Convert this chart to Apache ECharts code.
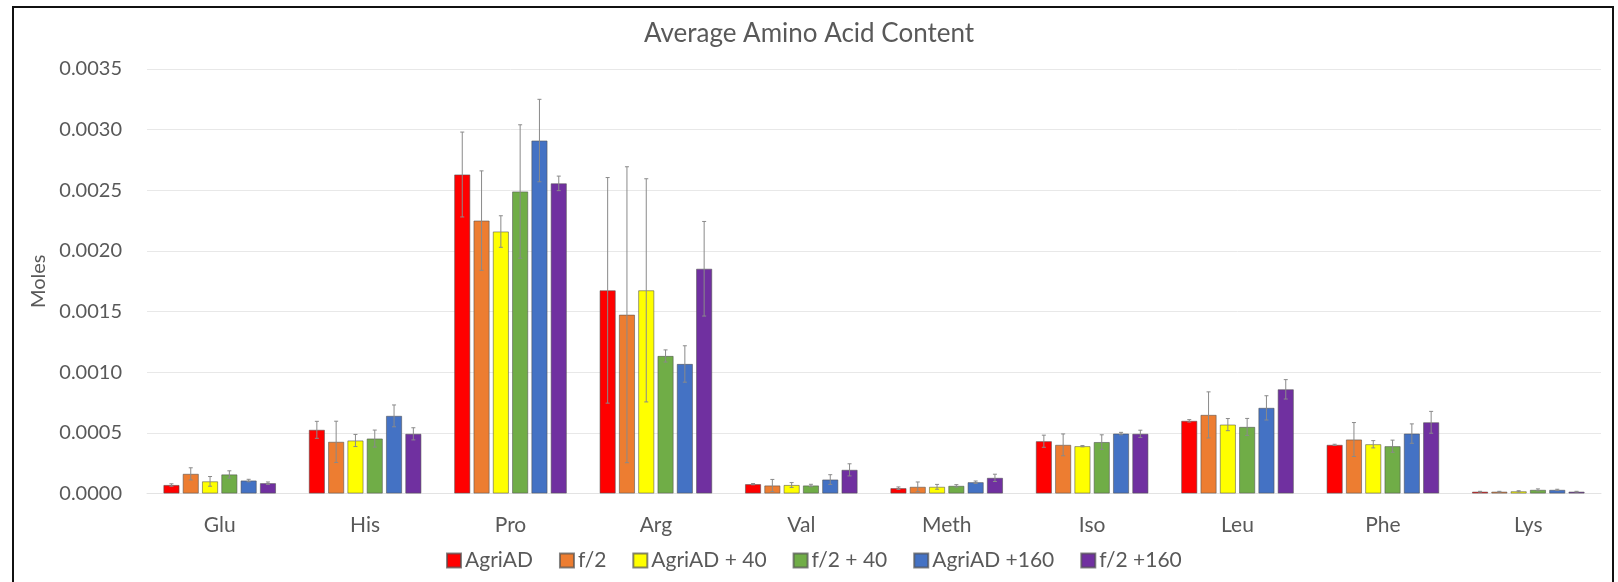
<!DOCTYPE html>
<html>
<head>
<meta charset="utf-8">
<script src="https://cdn.jsdelivr.net/npm/echarts@6/dist/echarts.min.js"></script>
<style>
html,body{margin:0;padding:0;background:#fff;}
#chart{position:absolute;left:0;top:0;width:1618px;height:582px;}
#frame{position:absolute;left:12px;top:6px;width:1598px;height:574px;border-left:2.5px solid #111;border-top:2.5px solid #111;border-right:2.5px solid #111;border-bottom:1px solid #e0e0e0;pointer-events:none;}
</style>
</head>
<body>
<div id="chart"></div>
<div id="frame"></div>
<script>
const categories = ['Glu','His','Pro','Arg','Val','Meth','Iso','Leu','Phe','Lys'];
const seriesNames = ['AgriAD','f/2','AgriAD + 40','f/2 + 40','AgriAD +160','f/2 +160'];
const colors = ['#FF0000','#ED7D31','#FFFF00','#70AD47','#4472C4','#7030A0'];
const yTicks = [0,0.0005,0.001,0.0015,0.002,0.0025,0.003,0.0035];

const agriAD     = [0.000070,0.000525,0.002630,0.001675,0.000077,0.000044,0.000431,0.000599,0.000401,0.000015];
const f2         = [0.000162,0.000426,0.002250,0.001474,0.000066,0.000055,0.000401,0.000648,0.000445,0.000015];
const agriAD40   = [0.000100,0.000437,0.002160,0.001675,0.000070,0.000055,0.000390,0.000568,0.000406,0.000018];
const f2_40      = [0.000157,0.000453,0.002490,0.001134,0.000066,0.000063,0.000424,0.000549,0.000390,0.000030];
const agriAD160  = [0.000107,0.000640,0.002910,0.001068,0.000115,0.000093,0.000494,0.000706,0.000494,0.000030];
const f2_160     = [0.000085,0.000492,0.002557,0.001853,0.000195,0.000129,0.000492,0.000859,0.000587,0.000015];

const agriADErr    = [0.000010,0.000070,0.000350,0.000930,0.000005,0.000010,0.000050,0.000010,0.000005,0.000003];
const f2Err        = [0.000050,0.000170,0.000410,0.001220,0.000050,0.000040,0.000090,0.000190,0.000140,0.000003];
const agriAD40Err  = [0.000040,0.000050,0.000130,0.000920,0.000020,0.000020,0.000005,0.000050,0.000030,0.000005];
const f2_40Err     = [0.000030,0.000070,0.000550,0.000050,0.000010,0.000010,0.000060,0.000070,0.000050,0.000008];
const agriAD160Err = [0.000010,0.000090,0.000340,0.000150,0.000040,0.000010,0.000010,0.000100,0.000080,0.000005];
const f2_160Err    = [0.000010,0.000050,0.000060,0.000390,0.000050,0.000030,0.000030,0.000080,0.000090,0.000003];

const values = [agriAD,f2,agriAD40,f2_40,agriAD160,f2_160];
const errors = [agriADErr,f2Err,agriAD40Err,f2_40Err,agriAD160Err,f2_160Err];

const BAR_W = 16, BAR_GAP = 3.3;
const FONT = 'Lato';
const TXT = '#595959';

const series = [];
values.forEach((vals, i) => {
  series.push({
    name: seriesNames[i],
    type: 'bar',
    data: vals,
    barWidth: BAR_W,
    barGap: (BAR_GAP / BAR_W * 100) + '%',
    itemStyle: { color: colors[i], borderColor: 'rgba(80,80,80,0.7)', borderWidth: 0.8 },
    emphasis: { disabled: true }
  });
});
values.forEach((vals, i) => {
  series.push({
    name: seriesNames[i],
    type: 'custom',
    z: 10,
    silent: true,
    data: vals.map((v, k) => [k, v, errors[i][k]]),
    renderItem: function (params, api) {
      const k = api.value(0), v = api.value(1), e = api.value(2);
      const off = (i - 2.5) * (BAR_W + BAR_GAP);
      const top = api.coord([k, v + e]);
      const bot = api.coord([k, Math.max(0, v - e)]);
      const x = top[0] + off;
      const style = { stroke: '#8a8a8a', lineWidth: 1 };
      return {
        type: 'group',
        children: [
          { type: 'line', shape: { x1: x, y1: top[1], x2: x, y2: bot[1] }, style },
          { type: 'line', shape: { x1: x - 2, y1: top[1], x2: x + 2, y2: top[1] }, style },
          { type: 'line', shape: { x1: x - 2, y1: bot[1], x2: x + 2, y2: bot[1] }, style }
        ]
      };
    }
  });
});

const chart = echarts.init(document.getElementById('chart'), null, { renderer: 'canvas' });
chart.setOption({
  animation: false,
  backgroundColor: '#fff',
  title: {
    text: 'Average Amino Acid Content',
    left: 'center',
    top: 16,
    textStyle: { fontFamily: FONT, fontSize: 26, fontWeight: 'normal', color: TXT }
  },
  legend: {
    data: seriesNames,
    bottom: 6,
    left: 441,
    itemWidth: 14,
    itemHeight: 14,
    itemGap: 26,
    icon: 'rect',
    textStyle: { fontFamily: FONT, fontSize: 21, color: TXT, padding: [0,0,0,-1] }
  },
  grid: { left: 147, right: 17, top: 69, bottom: 88.5 },
  xAxis: {
    type: 'category',
    data: categories,
    axisLine: { lineStyle: { color: '#e3e3e3', width: 1 } },
    axisTick: { show: false },
    axisLabel: { fontFamily: FONT, fontSize: 21, color: TXT, margin: 21 }
  },
  yAxis: {
    type: 'value',
    min: yTicks[0],
    max: yTicks[yTicks.length - 1],
    interval: yTicks[1] - yTicks[0],
    name: 'Moles',
    nameLocation: 'middle',
    nameGap: 97,
    nameRotate: 90,
    nameTextStyle: { fontFamily: FONT, fontSize: 20, color: TXT },
    axisLine: { show: false },
    axisTick: { show: false },
    splitLine: { lineStyle: { color: '#e8e8e8', width: 1 } },
    axisLabel: { fontFamily: FONT, fontSize: 20, color: TXT, margin: 25, formatter: v => v.toFixed(4) }
  },
  series: series
});
</script>
</body>
</html>
